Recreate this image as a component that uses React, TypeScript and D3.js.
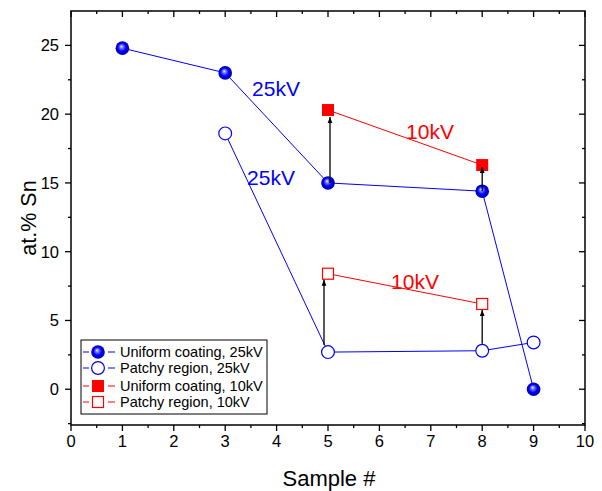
import React from "react";
import * as d3 from "d3";

const uniform25X = [1, 3, 5, 8, 9];
const uniform25Y = [24.8, 23.0, 15.0, 14.4, 0.0];
const patchy25X = [3, 5, 8, 9];
const patchy25Y = [18.6, 2.7, 2.8, 3.4];
const uniform10X = [5, 8];
const uniform10Y = [20.3, 16.3];
const patchy10X = [5, 8];
const patchy10Y = [8.4, 6.2];
const xTicks = [0, 1, 2, 3, 4, 5, 6, 7, 8, 9, 10];
const yTicks = [0, 5, 10, 15, 20, 25];
const legendLabels = [
  "Uniform coating, 25kV",
  "Patchy region, 25kV",
  "Uniform coating, 10kV",
  "Patchy region, 10kV",
];
// arrows: [x, fromY, toY]
const arrowsX = [5, 8, 5, 8];
const arrowsFrom = [15.0, 14.4, 2.7, 2.8];
const arrowsTo = [20.3, 16.3, 8.4, 6.2];

const W = 602, H = 491;
const L = 71, R = 585, T = 11, B = 425;
const BLUE = "#0000ff";
const RED = "#ff0000";
const FONT = "Liberation Sans, Arial, sans-serif";

export default function App() {
  const x = d3.scaleLinear().domain([0, 10]).range([L, R]);
  const y = d3.scaleLinear().domain([-2.6, 27.5]).range([B, T]);
  const line = d3.line<[number, number]>().x(d => x(d[0])).y(d => y(d[1]));
  const zip = (a: number[], b: number[]) => a.map((v, i) => [v, b[i]] as [number, number]);
  const u25 = zip(uniform25X, uniform25Y);
  const p25 = zip(patchy25X, patchy25Y);
  const u10 = zip(uniform10X, uniform10Y);
  const p10 = zip(patchy10X, patchy10Y);
  const xMinor = d3.range(0.5, 10, 1);
  const yMinor = [-2.5, 2.5, 7.5, 12.5, 17.5, 22.5];

  const sphere = (cx: number, cy: number, k: string) => (
    <circle key={k} cx={cx} cy={cy} r={6.8} fill="url(#sph)" />
  );
  const openCircle = (cx: number, cy: number, k: string) => (
    <circle key={k} cx={cx} cy={cy} r={6.4} fill="#fff" stroke={BLUE} strokeWidth={1.2} />
  );
  const redSquare = (cx: number, cy: number, k: string) => (
    <rect key={k} x={cx - 6} y={cy - 6} width={12} height={12} fill={RED} />
  );
  const openSquare = (cx: number, cy: number, k: string) => (
    <rect key={k} x={cx - 5.5} y={cy - 5.5} width={11} height={11} fill="#fff" stroke={RED} strokeWidth={1.2} />
  );

  const legRows = [352, 368, 386, 402];
  const legendMarkers = [sphere, openCircle, redSquare, openSquare];
  const legendColors = [BLUE, BLUE, RED, RED];

  return (
    <svg width={W} height={H} style={{ position: "absolute", left: 0, top: 0 }}>
      <defs>
        <radialGradient id="sph" cx="0.5" cy="0.5" r="0.5" fx="0.42" fy="0.36">
          <stop offset="0" stopColor="#ffffff" />
          <stop offset="0.22" stopColor="#8080ff" />
          <stop offset="0.6" stopColor="#0000f8" />
          <stop offset="1" stopColor="#0000b0" />
        </radialGradient>
        <marker id="arr" viewBox="0 0 10 10" refX="10" refY="5" markerWidth="6" markerHeight="9" orient="auto" markerUnits="userSpaceOnUse">
          <path d="M0,1 L10,5 L0,9 Z" fill="#000" />
        </marker>
      </defs>
      <rect x={0} y={0} width={W} height={H} fill="#fff" />

      {/* series lines */}
      <path d={line(u25) || ""} fill="none" stroke={BLUE} strokeWidth={1} />
      <path d={line(p25) || ""} fill="none" stroke={BLUE} strokeWidth={1} />
      <path d={line(u10) || ""} fill="none" stroke={RED} strokeWidth={1} />
      <path d={line(p10) || ""} fill="none" stroke={RED} strokeWidth={1} />

      {/* markers */}
      {p25.map((d, i) => openCircle(x(d[0]), y(d[1]), "p25" + i))}
      {u25.map((d, i) => sphere(x(d[0]), y(d[1]), "u25" + i))}
      {u10.map((d, i) => redSquare(x(d[0]), y(d[1]), "u10" + i))}
      {p10.map((d, i) => openSquare(x(d[0]), y(d[1]), "p10" + i))}

      {/* arrows */}
      {arrowsX.map((ax, i) => (
        <line key={"a" + i} x1={x(ax) + (i === 2 ? -4 : i === 0 ? 2 : 0)} x2={x(ax) + (i === 2 ? -4 : i === 0 ? 2 : 0)}
          y1={y(arrowsFrom[i]) - (i >= 2 ? 7 : 0)} y2={y(arrowsTo[i]) + (i === 0 ? 7 : i === 1 ? 2 : 6)}
          stroke="#000" strokeWidth={1.3} markerEnd="url(#arr)" />
      ))}

      {/* annotations */}
      <text x={276} y={88} fontFamily={FONT} fontSize={21} fill={BLUE} textAnchor="middle" dominantBaseline="central">25kV</text>
      <text x={271} y={177} fontFamily={FONT} fontSize={21} fill={BLUE} textAnchor="middle" dominantBaseline="central">25kV</text>
      <text x={430} y={131} fontFamily={FONT} fontSize={21} fill={RED} textAnchor="middle" dominantBaseline="central">10kV</text>
      <text x={415} y={281} fontFamily={FONT} fontSize={21} fill={RED} textAnchor="middle" dominantBaseline="central">10kV</text>

      {/* frame */}
      <rect x={L} y={T} width={R - L} height={B - T} fill="none" stroke="#000" strokeWidth={1.5} />

      {/* x ticks */}
      {xTicks.map(t => (
        <g key={"xt" + t}>
          <line x1={x(t)} x2={x(t)} y1={B} y2={B + 6} stroke="#000" strokeWidth={1.3} />
          <line x1={x(t)} x2={x(t)} y1={T} y2={T + 6} stroke="#000" strokeWidth={1.3} />
          <text x={x(t)} y={441} fontFamily={FONT} fontSize={16.5} textAnchor="middle" dominantBaseline="central" fill="#000">{t}</text>
        </g>
      ))}
      {xMinor.map(t => (
        <g key={"xm" + t}>
          <line x1={x(t)} x2={x(t)} y1={B} y2={B + 3} stroke="#000" strokeWidth={1.3} />
          <line x1={x(t)} x2={x(t)} y1={T} y2={T + 3} stroke="#000" strokeWidth={1.3} />
        </g>
      ))}
      {/* y ticks */}
      {yTicks.map(t => (
        <g key={"yt" + t}>
          <line x1={L - 6} x2={L} y1={y(t)} y2={y(t)} stroke="#000" strokeWidth={1.3} />
          <line x1={R - 6} x2={R} y1={y(t)} y2={y(t)} stroke="#000" strokeWidth={1.3} />
          <text x={59} y={y(t)} fontFamily={FONT} fontSize={16.5} textAnchor="end" dominantBaseline="central" fill="#000">{t}</text>
        </g>
      ))}
      {yMinor.map(t => (
        <g key={"ym" + t}>
          <line x1={L - 3} x2={L} y1={y(t)} y2={y(t)} stroke="#000" strokeWidth={1.3} />
          <line x1={R - 3} x2={R} y1={y(t)} y2={y(t)} stroke="#000" strokeWidth={1.3} />
        </g>
      ))}

      {/* axis titles */}
      <text x={329} y={478} fontFamily={FONT} fontSize={22} textAnchor="middle" dominantBaseline="central" fill="#000">Sample #</text>
      <text transform={`translate(29,218) rotate(-90)`} fontFamily={FONT} fontSize={21.5} textAnchor="middle" dominantBaseline="central" fill="#000">at.% Sn</text>

      {/* legend */}
      <rect x={81} y={340} width={186} height={74} fill="#fff" stroke="#000" strokeWidth={1} />
      {legendLabels.map((lab, i) => {
        const ly = legRows[i];
        return (
          <g key={"lg" + i}>
            <line x1={83} x2={89} y1={ly} y2={ly} stroke={legendColors[i]} strokeWidth={1} />
            <line x1={108} x2={115} y1={ly} y2={ly} stroke={legendColors[i]} strokeWidth={1} />
            {legendMarkers[i](98, ly, "lm" + i)}
            <text x={120} y={ly} fontFamily={FONT} fontSize={14.5} dominantBaseline="central" fill="#000">{lab}</text>
          </g>
        );
      })}
    </svg>
  );
}
